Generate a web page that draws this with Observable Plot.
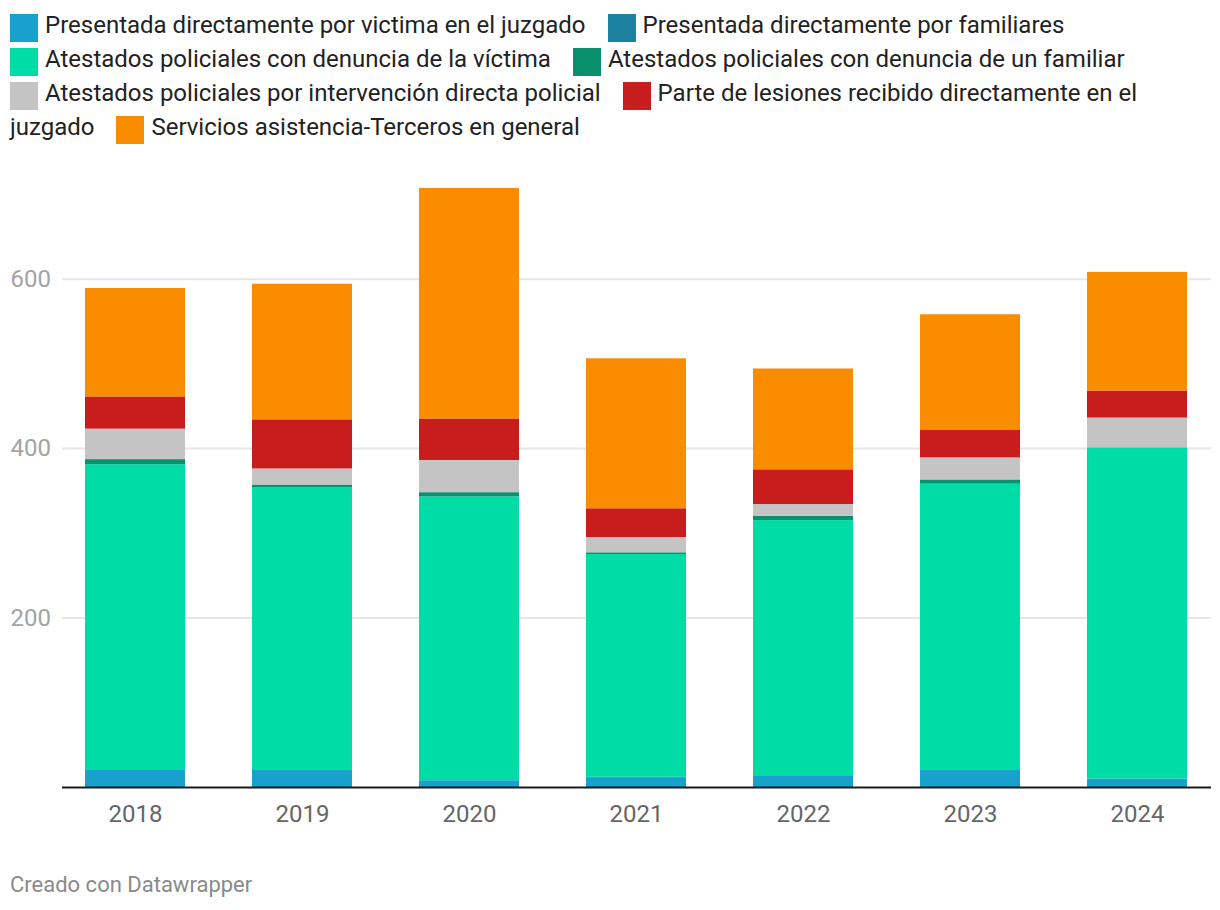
<!DOCTYPE html>
<html><head><meta charset="utf-8">
<script src="https://cdn.jsdelivr.net/npm/d3@7"></script>
<script src="https://cdn.jsdelivr.net/npm/@observablehq/plot@0.6"></script>
<style>
body{margin:0;background:#fff;font-family:Roboto,sans-serif;}
#wrap{position:relative;width:1220px;height:910px;overflow:hidden;}
#legend{position:absolute;left:10px;top:8px;width:1200px;font-size:24px;line-height:34.1px;color:#222;}
.item{margin-right:16px;}
.head{white-space:nowrap;}
.sw{display:inline-block;width:28px;height:28px;vertical-align:-9px;margin-right:7px;}
#chart{position:absolute;left:0;top:160px;}
#credit{position:absolute;left:10px;top:872px;font-size:22px;line-height:26px;color:#8a8a8a;}
</style></head><body>
<div id="wrap"><div id="legend"></div><div id="chart"></div><div id="credit">Creado con Datawrapper</div></div>
<script>
const years = ["2018","2019","2020","2021","2022","2023","2024"];
const series = [
  "Presentada directamente por victima en el juzgado",
  "Presentada directamente por familiares",
  "Atestados policiales con denuncia de la víctima",
  "Atestados policiales con denuncia de un familiar",
  "Atestados policiales por intervención directa policial",
  "Parte de lesiones recibido directamente en el juzgado",
  "Servicios asistencia-Terceros en general"
];
const victima      = [21, 20, 8, 11, 13, 20, 10];
const familiares   = [0, 0, 0, 1, 0, 0, 0];
const atestVictima = [360, 334, 335, 263, 302, 338, 391];
const atestFamiliar= [6, 3, 5, 2, 5, 5, 0];
const intervencion = [36, 19, 38, 18, 14, 26, 35];
const lesiones     = [38, 58, 49, 34, 41, 33, 32];
const servicios    = [128, 160, 272, 177, 119, 136, 140];
const yTicks = [200, 400, 600];

const colors = ["#18a1cd","#1d81a2","#00dca6","#09916d","#c4c4c4","#c71e1d","#fa8c00"];

const valuesBySeries = [victima, familiares, atestVictima, atestFamiliar, intervencion, lesiones, servicios];
const data = [];
years.forEach((yr, i) => {
  series.forEach((s, j) => data.push({year: yr, series: s, value: valuesBySeries[j][i]}));
});

// legend: swatch + first word kept together, rest may wrap
const legend = document.getElementById("legend");
series.forEach((s, j) => {
  const item = document.createElement("span");
  item.className = "item";
  const head = document.createElement("span");
  head.className = "head";
  const sw = document.createElement("span");
  sw.className = "sw";
  sw.style.background = colors[j];
  head.appendChild(sw);
  const words = s.split(" ");
  head.appendChild(document.createTextNode(words[0]));
  item.appendChild(head);
  if (words.length > 1) item.appendChild(document.createTextNode(" " + words.slice(1).join(" ")));
  legend.appendChild(item);
  legend.appendChild(document.createTextNode(" "));
});

const chart = Plot.plot({
  width: 1220, height: 687,
  marginLeft: 62, marginRight: 9, marginTop: 17, marginBottom: 60,
  style: {fontFamily: "Roboto, sans-serif", background: "#fff", overflow: "visible"},
  x: {domain: years, paddingInner: 0.4, paddingOuter: 0.12, label: null},
  y: {domain: [0, 720], label: null},
  color: {domain: series, range: colors},
  marks: [
    Plot.gridY(yTicks, {stroke: "#e6e6e6", strokeOpacity: 1, strokeWidth: 2}),
    Plot.barY(data, {x: "year", y: "value", fill: "series", order: series}),
    Plot.ruleY([0], {stroke: "#1a1a1a", strokeWidth: 2}),
    Plot.axisY(yTicks, {tickSize: 0, tickPadding: 3, textAnchor: "start", dx: -49, fontSize: 24, color: "#a3a3a3", label: null}),
    Plot.axisX({tickSize: 0, tickPadding: 17, fontSize: 24, color: "#666", label: null})
  ]
});
document.getElementById("chart").appendChild(chart);
</script>
</body></html>
